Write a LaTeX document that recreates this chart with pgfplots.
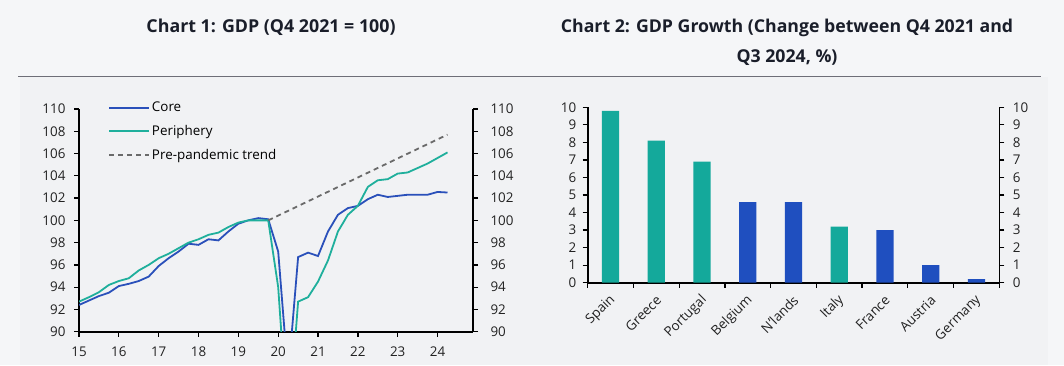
\documentclass[border=0pt]{standalone}
\usepackage{pgfplots}
\pgfplotsset{compat=1.18}
\usepackage{fontspec}
\setmainfont{Open Sans}
\definecolor{bgtop}{HTML}{F5F6F8}
\definecolor{bgpanel}{HTML}{F1F2F4}
\definecolor{rulecol}{HTML}{6E6E78}
\definecolor{coreblue}{HTML}{2A50BA}
\definecolor{periteal}{HTML}{1FAF9C}
\definecolor{barteal}{HTML}{14A99B}
\definecolor{barblue}{HTML}{1F4FBF}
\definecolor{trendgrey}{HTML}{6A6A6A}
\definecolor{titlecol}{HTML}{1A1E2A}
\definecolor{labcol}{HTML}{222222}
\pgfplotsset{
  myaxis/.style={
    scale only axis,
    axis line style={line width=1.6pt, black, -},
    tick style={line width=1.3pt, black},
    major tick length=5pt,
    tick align=outside,
    ticklabel style={font=\fontsize{13.4}{13.4}\selectfont, text=labcol},
    /pgf/number format/assume math mode=true,
    clip=true,
  }
}
\begin{document}
\begin{tikzpicture}[x=1pt,y=1pt]
\fill[bgtop] (0,0) rectangle (1064,365);
\fill[bgpanel] (20,0) rectangle (1048,288);
\draw[rulecol, line width=1pt] (18,289) -- (1041,289);
\node[font=\fontsize{17.8}{17.8}\selectfont\bfseries, text=titlecol] at (271,338) {Chart 1: GDP (Q4 2021 = 100)};
\node[font=\fontsize{17.7}{30}\selectfont\bfseries, text=titlecol, align=center] at (787,323) {Chart 2: GDP Growth (Change between Q4 2021 and\\Q3 2024, \%)};

% ---------------- Chart 1 ----------------
\begin{axis}[myaxis,
  at={(79pt,33.3pt)}, anchor=south west,
  width=394pt, height=222.7pt,
  xmin=15, xmax=24.89, ymin=90, ymax=110,
  axis x line*=bottom, axis y line*=left,
  xtick={15,...,24}, ytick={90,92,...,110},
  yticklabel style={xshift=-5pt},
  xticklabel style={yshift=-7pt},
  legend style={at={(0.0736,1.04)}, anchor=north west, draw=none, fill=none,
    font=\fontsize{13.4}{13.4}\selectfont, inner sep=0pt, row sep=8pt, cells={anchor=west}},
  legend image code/.code={\draw[#1] (0pt,0pt) -- (40pt,0pt);},
]
\addplot[coreblue, line width=1.8pt] table {
x y
15.00 92.4
15.25 92.8
15.50 93.2
15.75 93.5
16.00 94.1
16.25 94.3
16.50 94.55
16.75 94.95
17.00 95.9
17.25 96.6
17.50 97.2
17.75 97.9
18.00 97.8
18.25 98.3
18.50 98.2
18.75 99.0
19.00 99.7
19.25 100.0
19.50 100.2
19.75 100.1
20.00 97.2
20.25 86.0
20.50 96.7
20.75 97.1
21.00 96.8
21.25 99.0
21.50 100.5
21.75 101.1
22.00 101.3
22.25 101.9
22.50 102.3
22.75 102.1
23.00 102.2
23.25 102.3
23.50 102.3
23.75 102.3
24.00 102.55
24.25 102.5
};
\addlegendentry{Core}
\addplot[periteal, line width=1.8pt] table {
x y
15.00 92.7
15.25 93.1
15.50 93.55
15.75 94.2
16.00 94.55
16.25 94.8
16.50 95.5
16.75 96.0
17.00 96.6
17.25 97.0
17.50 97.5
17.75 98.0
18.00 98.3
18.25 98.7
18.50 98.9
18.75 99.4
19.00 99.8
19.25 100.0
19.50 100.0
19.75 100.0
20.00 94.0
20.25 81.0
20.50 92.7
20.75 93.1
21.00 94.5
21.25 96.4
21.50 99.0
21.75 100.5
22.00 101.3
22.25 103.0
22.50 103.6
22.75 103.7
23.00 104.2
23.25 104.3
23.50 104.7
23.75 105.1
24.00 105.6
24.25 106.1
};
\addlegendentry{Periphery}
\addplot[trendgrey, line width=1.8pt, dash pattern=on 5pt off 4pt] coordinates {(19.75,100) (24.25,107.7)};
\addlegendentry{Pre-pandemic trend}
\end{axis}
\begin{axis}[myaxis,
  at={(79pt,33.3pt)}, anchor=south west,
  width=394pt, height=222.7pt,
  xmin=15, xmax=24.89, ymin=90, ymax=110,
  axis x line=none, axis y line*=right,
  ytick={90,92,...,110},
  yticklabel style={xshift=9pt},
]
\addplot[draw=none] coordinates {(15,100)};
\end{axis}

% ---------------- Chart 2 ----------------
\begin{axis}[myaxis,
  at={(587.7pt,82.3pt)}, anchor=south west,
  width=411.6pt, height=175.4pt,
  xmin=-0.5, xmax=8.5, ymin=0, ymax=10,
  axis x line*=bottom, axis y line*=left,
  xtick={-0.5,0.5,...,8.5},
  x tick label as interval,
  xticklabels={Spain,Greece,Portugal,Belgium,N'lands,Italy,France,Austria,Germany},
  xticklabel style={rotate=45, anchor=east, xshift=-2pt, yshift=-9pt},
  yticklabel style={xshift=-3pt},
  ytick={0,...,10},
]
\addplot[ybar, bar width=17.3pt, bar shift=0pt, fill=barteal, draw=none] coordinates {(0,9.8) (1,8.1) (2,6.9) (5,3.2)};
\addplot[ybar, bar width=17.3pt, bar shift=0pt, fill=barblue, draw=none] coordinates {(3,4.6) (4,4.6) (6,3.0) (7,1.0) (8,0.2)};
\end{axis}
\begin{axis}[myaxis,
  at={(587.7pt,82.3pt)}, anchor=south west,
  width=411.6pt, height=175.4pt,
  xmin=-0.5, xmax=8.5, ymin=0, ymax=10,
  axis x line=none, axis y line*=right,
  ytick={0,...,10},
  yticklabel style={xshift=5pt},
]
\addplot[draw=none] coordinates {(0,5)};
\end{axis}
\end{tikzpicture}
\end{document}
